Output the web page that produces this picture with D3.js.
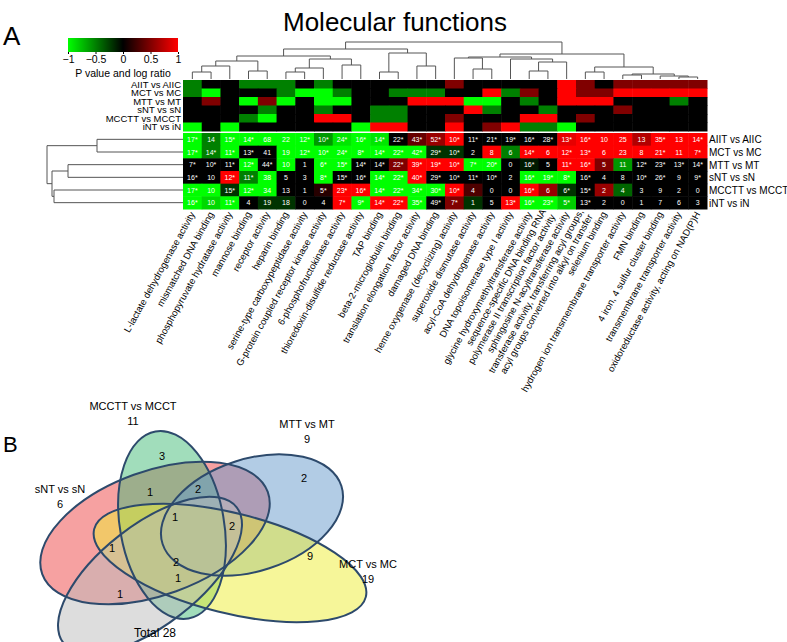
<!DOCTYPE html>
<html>
<head>
<meta charset="utf-8">
<script src="https://cdn.jsdelivr.net/npm/d3@7"></script>
<style>
  body { margin: 0; background: #fff; }
  svg { font-family: "Liberation Sans", Arial, sans-serif; }
</style>
</head>
<body>
<script>
/* ------------------------------- Data ------------------------------- */
const comparisons = ["AIIT vs AIIC", "MCT vs MC", "MTT vs MT", "sNT vs sN", "MCCTT vs MCCT", "iNT vs iN"];

const functions = [
  "L-lactate dehydrogenase activity", "mismatched DNA binding", "phosphopyruvate hydratase activity",
  "mannose binding", "receptor activity", "heparin binding", "serine-type carboxypeptidase activity",
  "G-protein coupled receptor kinase activity", "6-phosphofructokinase activity",
  "thioredoxin-disulfide reductase activity", "TAP binding", "beta-2-microglobulin binding",
  "translation elongation factor activity", "damaged DNA binding", "heme oxygenase (decyclizing) activity",
  "superoxide dismutase activity", "acyl-CoA dehydrogenase activity", "DNA topoisomerase type I activity",
  "glycine hydroxymethyltransferase activity",
  "sequence-specific DNA binding RNA\npolymerase II transcription factor activity",
  "sphingosine N-acyltransferase activity",
  "transferase activity, transferring acyl groups,\nacyl groups converted into alkyl on transfer",
  "selenium binding", "hydrogen ion transmembrane transporter activity", "FMN binding",
  "4 iron, 4 sulfur cluster binding", "transmembrane transporter activity",
  "oxidoreductase activity, acting on NAD(P)H"
];

// upper block: p value / log ratio summary (-1 green ... 1 red)
const summaryValues = [
  [-.5, 0, 0, -.5, -.5, -.5, 0, -.5, 0, 0, 0, 0, 0, 0, .5, 0, 0, 0, 0, 0, 1, .5, 0, .5, .5, .5, .5, .5],
  [-.5, -1, 0, 0, 0, -.5, -1, -1, -.5, 0, 0, -.5, -.5, -.5, 0, 0, 1, -.5, .5, 0, 1, .5, .5, 1, 1, 1, 1, 1],
  [0, .5, 0, -1, .5, -1, 0, -1, -1, 0, 0, 0, 1, 1, 1, -1, -1, 0, -.5, 0, 1, 1, 1, 0, 0, 0, -.5, 0],
  [0, 0, 0, 0, -.5, 0, 0, -.5, 0, 0, -.5, -.5, 0, 0, 0, 1, -.5, 0, 0, -.5, 0, 0, 0, .5, 0, 0, 0, 0],
  [0, 0, 0, -.5, -1, 0, 0, 1, 1, 0, -.5, -.5, 0, 0, .5, 0, 0, 0, 1, 1, 0, .5, 0, 0, 0, 0, 0, 0],
  [-1, 0, -1, 0, 0, 0, 0, 0, 0, -1, 1, 1, 0, 0, 1, 0, .5, 1, -.5, -.5, -1, 0, 0, 0, 0, 0, 0, 0]
];

// lower block: gene counts (* = significant) and their colour value
const countLabels = [
  ["17*","14","15*","14*","68","22","12*","10*","24*","16*","14*","22*","43*","52*","10*","11*","21*","19*","16*","28*","13*","16*","10","25","13","35*","13","14*"],
  ["17*","14*","11*","13*","41","19","12*","10*","24*","8*","14*","22*","42*","29*","10*","2","8","6","14*","6","12*","13*","6","23","8","21*","11","7*"],
  ["7*","10*","11*","12*","44*","10","1","6*","15*","14*","14*","22*","39*","19*","10*","7*","20*","0","16*","5","11*","16*","5","11","12*","23*","13*","14*"],
  ["16*","10","12*","11*","38","5","3","8*","15*","16*","14*","22*","40*","29*","10*","11*","10*","2","16*","19*","8*","16*","4","8","10*","26*","9","9*"],
  ["17*","10","15*","12*","34","13","1","5*","23*","16*","14*","22*","34*","30*","10*","4","0","0","16*","6","6*","15*","2","4","3","9","2","0"],
  ["16*","10","11*","4","19","18","0","4","7*","9*","14*","22*","35*","49*","7*","1","5","13*","16*","23*","5*","13*","2","0","1","7","6","3"]
];
const countValues = [
  [-1, -.5, -1, -1, -1, -1, -1, -.6, -.9, -1, -.9, 0, .4, .6, 1, 0, 0, 0, 0, 0, .9, 1, 1, 1, .7, 1, 1, 1],
  [-1, -.5, -1, 0, 0, -1, -1, -1, -1, -1, -1, -1, -1, -.2, -.2, 0, 1, -.5, 1, 1, 1, 1, 1, 1, 1, 1, 1, 1],
  [0, 0, 0, -1, 0, -1, 0, -1, -1, 0, 0, .5, 1, 1, 1, -1, -1, 0, -.1, 0, 1, 1, .5, -.6, 0, 0, 0, 0],
  [0, 0, 1, -.5, -1, 0, 0, -1, 0, 0, -1, -1, 1, 0, 0, 0, 0, 0, -1, -1, -1, 0, 0, 0, 0, 0, 0, 0],
  [-1, -1, -.2, -1, -1, 0, 0, .15, 1, 1, -1, -1, -1, -1, 1, .3, 0, 0, 1, .6, -.2, 0, .6, -.4, 0, 0, 0, 0],
  [-1, -.85, -1, 0, -.2, -.2, 0, 0, 1, -1, 1, 1, -1, 0, .5, -.2, 0, 1, -1, -1, -.8, 0, 0, 0, 0, 0, 0, 0]
];

const legendTicks = [-1, -0.5, 0, 0.5, 1];

// column clustering: [height, left, right], leaves are column indices
const colTree = [37,
  [30,
    [23, [18, [13, [7, 0, 1], 2], [8, 3, 4]], [20, [11, [7, 5, 6], 7], [14, 8, 9]]],
    [26, [7, 10, 11], [13, 12, 13]]],
  [25,
    [22, [21, 14, [10, 15, 16]], [20, 17, [17, [8, 18, 19], 20]]],
    [12, [7, 21, 22], [5, [4, 23, 24], [3, 25, [2, 26, 27]]]]]
];
// row clustering of the comparisons
const rowTree = [136, [86, 0, 1], [131, [115, 2, 3], [129, 4, 5]]];

// Venn diagram
const vennNames = ["sNT vs sN", "MCCTT vs MCCT", "MTT vs MT", "MCT vs MC", ""];
const vennTotals = [6, 11, 9, 19, null];
const regionCounts = [3, 1, 2, 2, 1, 1, 2, 2, 1, 9, 1];
const totalCount = 28;

/* ------------------------------ Layout ------------------------------ */
const W = 787, H = 642;
const hm = { x0: 183, x1: 707, topY0: 80, topY1: 131, numY0: 133, numY1: 209 };
const vennShapes = [
  { cx: 155, cy: 533, rx: 120, ry: 62, rot: -20, fill: "#ee4444" },
  { cx: 172, cy: 525, rx: 95, ry: 52, rot: 80, fill: "#44bb77" },
  { cx: 252, cy: 515, rx: 94, ry: 56, rot: -18, fill: "#6699cc" },
  { cx: 230, cy: 563, rx: 140, ry: 50, rot: 14, fill: "#eeee33" },
  { cx: 150, cy: 575, rx: 110, ry: 50, rot: -38, fill: "#bbbbbb" }
];
const regionPos = [[162, 456], [150, 492], [198, 489], [304, 478], [112, 548], [175, 517],
                   [232, 526], [176, 562], [178, 578], [310, 556], [120, 594]];
const vennLabelPos = [[60, 493], [133, 410], [307, 428], [368, 568], null];

const svg = d3.select("body").append("svg").attr("width", W).attr("height", H);

/* --------------------------- Titles / panels --------------------------- */
svg.append("text").attr("x", 395).attr("y", 31).attr("text-anchor", "middle")
  .attr("font-size", 26).text("Molecular functions");
svg.append("text").attr("x", 3).attr("y", 45).attr("font-size", 26).text("A");
svg.append("text").attr("x", 3).attr("y", 452).attr("font-size", 22).text("B");

/* ------------------------------ Scales ------------------------------ */
const color = d3.scaleLinear().domain([-1, 0, 1]).range(["#00ff00", "#000000", "#ff0000"]);
const x = d3.scaleBand().domain(d3.range(functions.length)).range([hm.x0, hm.x1]);
const yTop = d3.scaleBand().domain(d3.range(comparisons.length)).range([hm.topY0, hm.topY1]);
const yNum = d3.scaleBand().domain(d3.range(comparisons.length)).range([hm.numY0, hm.numY1]);

/* ------------------------------ Legend ------------------------------ */
const grad = svg.append("defs").append("linearGradient").attr("id", "lg");
legendTicks.forEach(t => grad.append("stop")
  .attr("offset", (t + 1) / 2).attr("stop-color", color(t)));
const lx = d3.scaleLinear().domain([-1, 1]).range([68, 178]);
svg.append("rect").attr("x", 68).attr("y", 38).attr("width", 110).attr("height", 14)
  .attr("fill", "url(#lg)");
const lAxis = svg.append("g").attr("transform", "translate(0,52)")
  .call(d3.axisBottom(lx).tickValues(legendTicks).tickSize(2).tickPadding(2).tickFormat(d3.format("")));
lAxis.select(".domain").remove();
lAxis.selectAll("text").attr("font-size", 10.5).attr("font-family", "Liberation Sans, Arial")
  .attr("fill", "#000");
svg.append("text").attr("x", 123).attr("y", 77).attr("text-anchor", "middle")
  .attr("font-size", 10.5).text("P value and log ratio");

/* ----------------------------- Heatmaps ----------------------------- */
const topG = svg.append("g");
summaryValues.forEach((row, r) => {
  topG.selectAll(null).data(row).enter().append("rect")
    .attr("x", (d, c) => x(c)).attr("y", yTop(r))
    .attr("width", x.bandwidth() + 0.5).attr("height", yTop.bandwidth() + 0.5)
    .attr("fill", d => color(d));
});
topG.selectAll(".rl").data(comparisons).enter().append("text")
  .attr("x", hm.x0 - 2).attr("y", (d, i) => yTop(i) + yTop.bandwidth() / 2 + 3.3)
  .attr("text-anchor", "end").attr("font-size", 9.5).text(d => d);

const numG = svg.append("g");
countValues.forEach((row, r) => {
  numG.selectAll(null).data(row).enter().append("rect")
    .attr("x", (d, c) => x(c)).attr("y", yNum(r))
    .attr("width", x.bandwidth() + 0.5).attr("height", yNum.bandwidth() + 0.5)
    .attr("fill", d => color(d));
  numG.selectAll(null).data(countLabels[r]).enter().append("text")
    .attr("x", (d, c) => x(c) + x.bandwidth() / 2).attr("y", yNum(r) + yNum.bandwidth() / 2 + 2.5)
    .attr("text-anchor", "middle").attr("font-size", 7).attr("fill", "#fff").text(d => d);
});
numG.selectAll(".rr").data(comparisons).enter().append("text")
  .attr("x", hm.x1 + 2).attr("y", (d, i) => yNum(i) + yNum.bandwidth() / 2 + 4)
  .attr("font-size", 10).text(d => d);

/* -------------------------- Column labels -------------------------- */
const colLab = svg.append("g").selectAll("text").data(functions).enter().append("text")
  .attr("text-anchor", "end").attr("font-size", 9.5)
  .attr("transform", (d, i) => `translate(${x(i) + x.bandwidth() / 2 + 3},${hm.numY1 + 5}) rotate(-61)`);
colLab.each(function (d) {
  const lines = d.split("\n");
  d3.select(this).selectAll("tspan").data(lines).enter().append("tspan")
    .attr("x", 0).attr("y", (l, k) => (k - (lines.length - 1) / 2) * 10.5)
    .text(l => l);
});

/* ---------------------------- Dendrograms ---------------------------- */
function tree(data) {
  return d3.hierarchy(data, d => Array.isArray(d) ? d.slice(1) : null);
}
const hOf = n => Array.isArray(n.data) ? n.data[0] : 0;

// columns
const cRoot = tree(colTree);
const cy = d3.scaleLinear().domain([0, 37]).range([hm.topY0 - 1, 42]);
cRoot.eachAfter(n => {
  n.px = n.children ? d3.mean(n.children, c => c.px) : x(n.data) + x.bandwidth() / 2;
});
const dend = svg.append("g").attr("fill", "none").attr("stroke", "#555").attr("stroke-width", 1);
cRoot.descendants().filter(n => n.children).forEach(n => {
  const yy = cy(hOf(n));
  dend.append("path").attr("d",
    n.children.map(c => `M${c.px},${cy(hOf(c))}V${yy}`).join("") +
    `M${n.children[0].px},${yy}H${n.children[1].px}`);
});

// rows
const rRoot = tree(rowTree);
const rx = d3.scaleLinear().domain([0, 136]).range([hm.x0, 47]);
rRoot.eachAfter(n => {
  n.py = n.children ? d3.mean(n.children, c => c.py) : yNum(n.data) + yNum.bandwidth() / 2;
});
rRoot.descendants().filter(n => n.children).forEach(n => {
  const xx = rx(hOf(n));
  dend.append("path").attr("d",
    n.children.map(c => `M${rx(hOf(c))},${c.py}H${xx}`).join("") +
    `M${xx},${n.children[0].py}V${n.children[1].py}`);
});

/* ------------------------------- Venn ------------------------------- */
const venn = svg.append("g");
venn.selectAll(".fill").data(vennShapes).enter().append("ellipse")
  .attr("transform", d => `translate(${d.cx},${d.cy}) rotate(${d.rot})`)
  .attr("rx", d => d.rx).attr("ry", d => d.ry)
  .attr("fill", d => d.fill).attr("fill-opacity", 0.5);
venn.selectAll(".edge").data(vennShapes).enter().append("ellipse")
  .attr("transform", d => `translate(${d.cx},${d.cy}) rotate(${d.rot})`)
  .attr("rx", d => d.rx).attr("ry", d => d.ry)
  .attr("fill", "none").attr("stroke", "#2d4a6c").attr("stroke-width", 2);
venn.selectAll(".cnt").data(regionCounts).enter().append("text")
  .attr("x", (d, i) => regionPos[i][0]).attr("y", (d, i) => regionPos[i][1] + 4)
  .attr("text-anchor", "middle").attr("font-size", 11).text(d => d);
vennNames.forEach((name, i) => {
  const p = vennLabelPos[i];
  if (!p) return;
  venn.append("text").attr("x", p[0]).attr("y", p[1]).attr("text-anchor", "middle")
    .attr("font-size", 11).text(name);
  venn.append("text").attr("x", p[0]).attr("y", p[1] + 15).attr("text-anchor", "middle")
    .attr("font-size", 11).text(vennTotals[i]);
});
venn.append("text").attr("x", 155).attr("y", 637).attr("text-anchor", "middle")
  .attr("font-size", 12).text("Total " + totalCount);
</script>
</body>
</html>
